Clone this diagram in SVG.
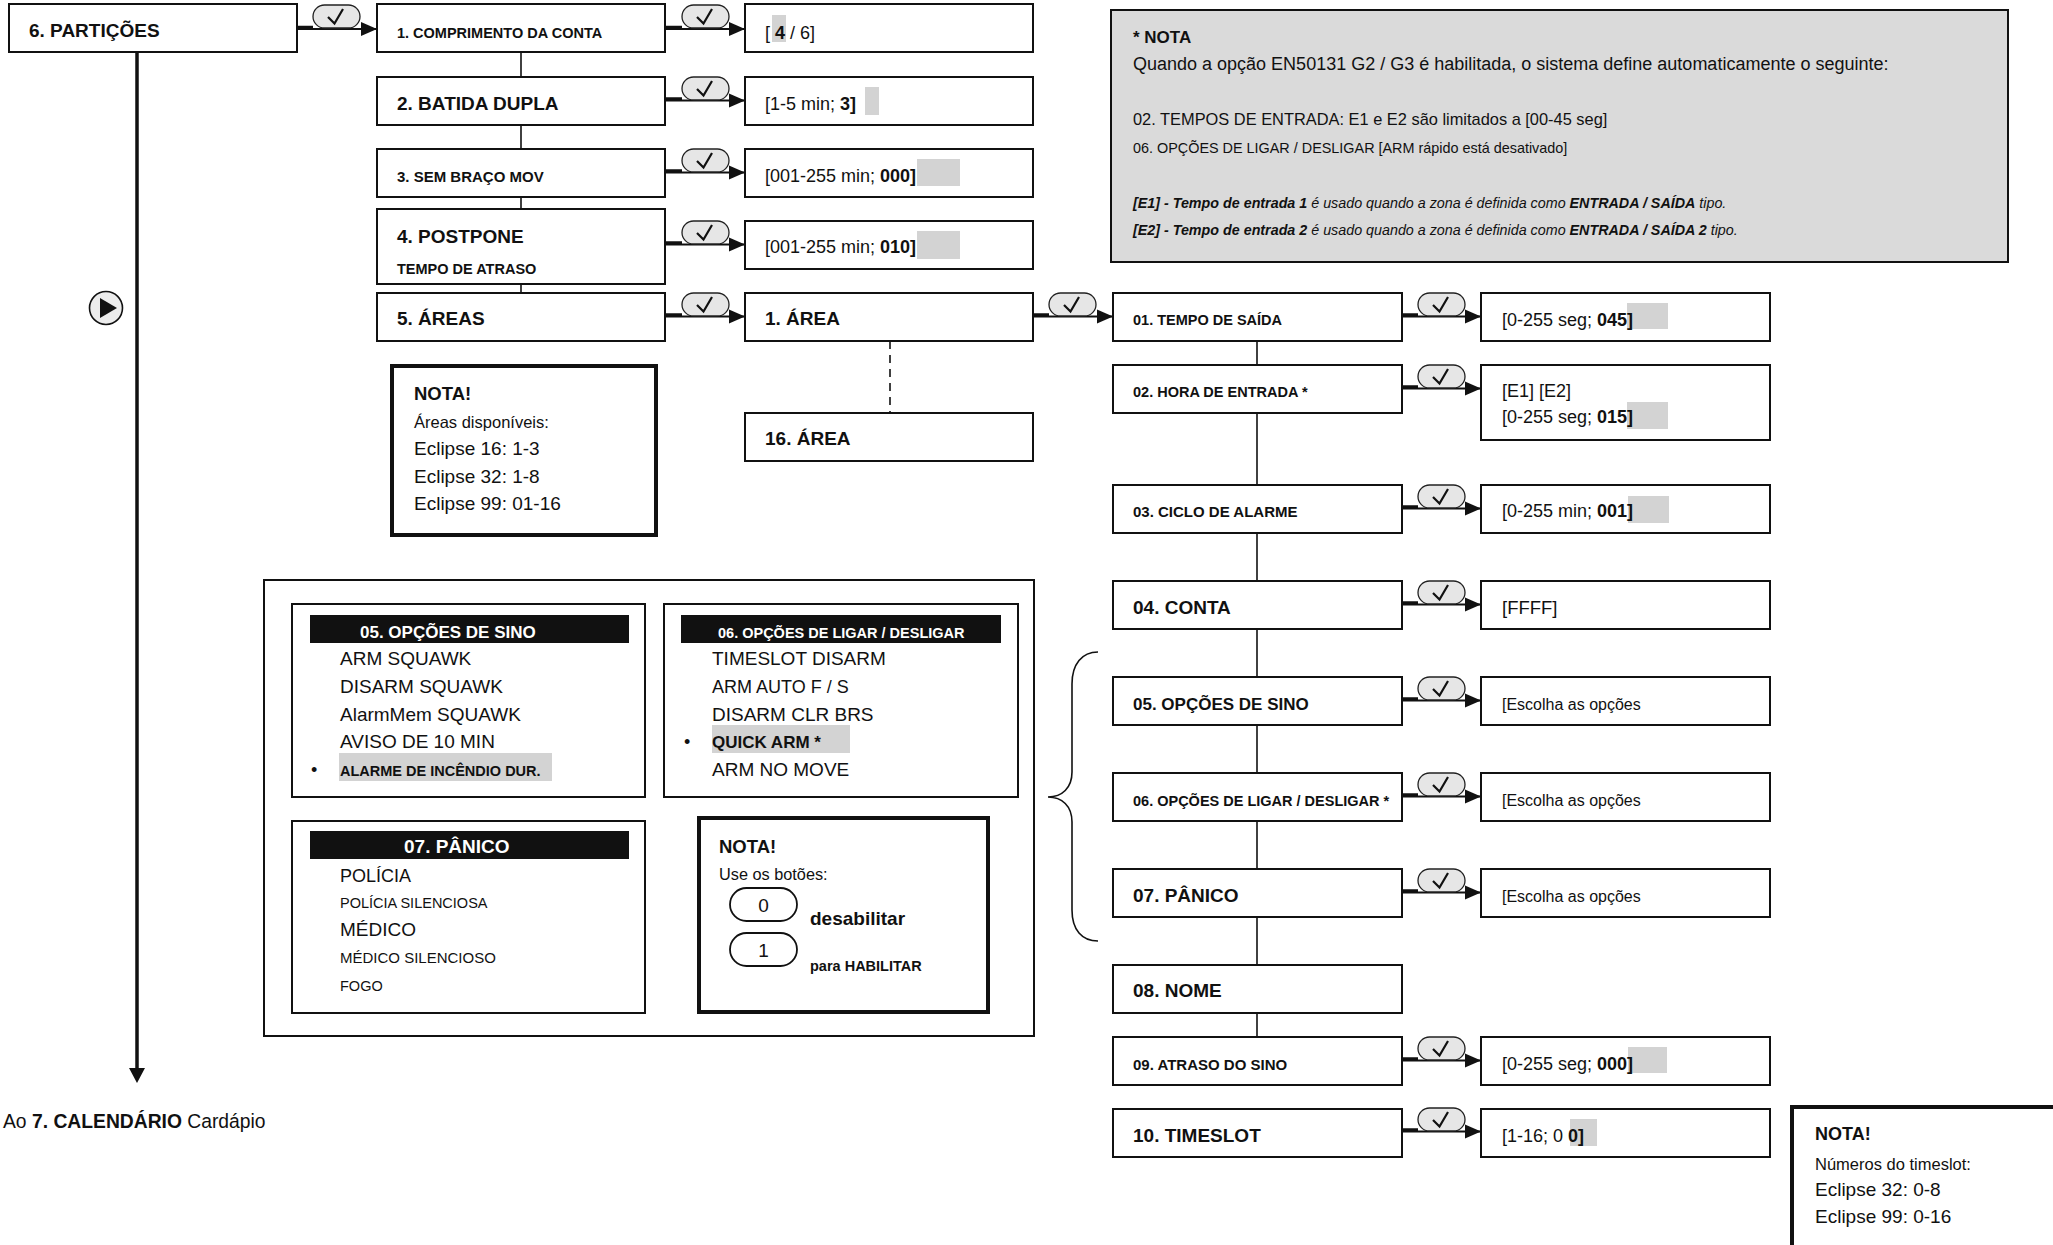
<svg xmlns="http://www.w3.org/2000/svg" xmlns:xlink="http://www.w3.org/1999/xlink" width="2053" height="1245" viewBox="0 0 2053 1245">
<style>
.t{font-family:"Liberation Sans",Arial,sans-serif;fill:#111}
.b{font-weight:bold}
.box{fill:#fff;stroke:#111;stroke-width:2}
.note{fill:#fff;stroke:#111;stroke-width:4}
.hl{fill:#d3d3d3}
.ln{stroke:#111;stroke-width:1.6;fill:none}
.stub{stroke:#111;stroke-width:3.5}
.arr{stroke:#111;stroke-width:1.8;fill:none}
.hdr{fill:#111}
.ht{font-family:"Liberation Sans",Arial,sans-serif;fill:#fff;font-weight:bold}
.f19{font-size:19px}.f18{font-size:18px}.f17{font-size:17px}.f16{font-size:16px}.f15{font-size:15px}.f14{font-size:14.5px}
</style>
<defs>
<marker id="ah" markerUnits="userSpaceOnUse" markerWidth="17" markerHeight="15" refX="16" refY="7.5" orient="auto">
<path d="M0,0.5 L16,7.5 L0,14.5 z" fill="#111"/>
</marker>
<g id="chk">
<rect x="0" y="0" width="47" height="23" rx="11.5" ry="11.5" fill="#e6e6e6" stroke="#222" stroke-width="1.3"/>
<path d="M15,12 L21.5,18.5 L30,4" fill="none" stroke="#111" stroke-width="2.2"/>
</g>
</defs>
<rect width="2053" height="1245" fill="#fff"/>

<!-- connectors -->
<g id="connectors">
<line x1="137" y1="52" x2="137" y2="1070" stroke="#111" stroke-width="3.5"/>
<path d="M129,1068 L145,1068 L137,1083 z" fill="#111"/>
<line class="ln" x1="521" y1="52" x2="521" y2="77"/>
<line class="ln" x1="521" y1="125" x2="521" y2="148"/>
<line class="ln" x1="521" y1="197" x2="521" y2="209"/>
<line class="ln" x1="521" y1="284" x2="521" y2="292"/>
<line x1="890" y1="341" x2="890" y2="412" stroke="#111" stroke-width="1.6" stroke-dasharray="8,6"/>
<line class="ln" x1="1257" y1="341" x2="1257" y2="365"/>
<line class="ln" x1="1257" y1="413" x2="1257" y2="485"/>
<line class="ln" x1="1257" y1="533" x2="1257" y2="581"/>
<line class="ln" x1="1257" y1="629" x2="1257" y2="677"/>
<line class="ln" x1="1257" y1="725" x2="1257" y2="773"/>
<line class="ln" x1="1257" y1="821" x2="1257" y2="869"/>
<line class="ln" x1="1257" y1="917" x2="1257" y2="965"/>
<line class="ln" x1="1257" y1="1013" x2="1257" y2="1037"/>
<path d="M1098,652 C1082,652 1072,664 1072,684 L1072,772 C1072,788 1062,797 1048,797 C1062,797 1072,806 1072,822 L1072,910 C1072,930 1082,941 1098,941" fill="none" stroke="#111" stroke-width="1.6"/>

<!-- arrows with check buttons -->
<line class="stub" x1="297" y1="27.5" x2="313" y2="27.5"/><line class="arr" x1="297" y1="29" x2="377" y2="29" marker-end="url(#ah)"/><use xlink:href="#chk" x="313" y="5"/>
<line class="stub" x1="665" y1="27.5" x2="682" y2="27.5"/><line class="arr" x1="665" y1="29" x2="745" y2="29" marker-end="url(#ah)"/><use xlink:href="#chk" x="682" y="5"/>
<line class="stub" x1="665" y1="99" x2="682" y2="99"/><line class="arr" x1="665" y1="100.5" x2="745" y2="100.5" marker-end="url(#ah)"/><use xlink:href="#chk" x="682" y="77"/>
<line class="stub" x1="665" y1="171" x2="682" y2="171"/><line class="arr" x1="665" y1="172.5" x2="745" y2="172.5" marker-end="url(#ah)"/><use xlink:href="#chk" x="682" y="149"/>
<line class="stub" x1="665" y1="243" x2="682" y2="243"/><line class="arr" x1="665" y1="244.5" x2="745" y2="244.5" marker-end="url(#ah)"/><use xlink:href="#chk" x="682" y="221"/>
<line class="stub" x1="665" y1="315" x2="682" y2="315"/><line class="arr" x1="665" y1="316.5" x2="745" y2="316.5" marker-end="url(#ah)"/><use xlink:href="#chk" x="682" y="293"/>
<line class="stub" x1="1033" y1="315" x2="1049" y2="315"/><line class="arr" x1="1033" y1="316.5" x2="1113" y2="316.5" marker-end="url(#ah)"/><use xlink:href="#chk" x="1049" y="293"/>
<line class="stub" x1="1402" y1="315" x2="1418" y2="315"/><line class="arr" x1="1402" y1="316.5" x2="1481" y2="316.5" marker-end="url(#ah)"/><use xlink:href="#chk" x="1418" y="293"/>
<line class="stub" x1="1402" y1="387" x2="1418" y2="387"/><line class="arr" x1="1402" y1="388.5" x2="1481" y2="388.5" marker-end="url(#ah)"/><use xlink:href="#chk" x="1418" y="365"/>
<line class="stub" x1="1402" y1="507" x2="1418" y2="507"/><line class="arr" x1="1402" y1="508.5" x2="1481" y2="508.5" marker-end="url(#ah)"/><use xlink:href="#chk" x="1418" y="485"/>
<line class="stub" x1="1402" y1="603" x2="1418" y2="603"/><line class="arr" x1="1402" y1="604.5" x2="1481" y2="604.5" marker-end="url(#ah)"/><use xlink:href="#chk" x="1418" y="581"/>
<line class="stub" x1="1402" y1="699" x2="1418" y2="699"/><line class="arr" x1="1402" y1="700.5" x2="1481" y2="700.5" marker-end="url(#ah)"/><use xlink:href="#chk" x="1418" y="677"/>
<line class="stub" x1="1402" y1="795" x2="1418" y2="795"/><line class="arr" x1="1402" y1="796.5" x2="1481" y2="796.5" marker-end="url(#ah)"/><use xlink:href="#chk" x="1418" y="773"/>
<line class="stub" x1="1402" y1="891" x2="1418" y2="891"/><line class="arr" x1="1402" y1="892.5" x2="1481" y2="892.5" marker-end="url(#ah)"/><use xlink:href="#chk" x="1418" y="869"/>
<line class="stub" x1="1402" y1="1059" x2="1418" y2="1059"/><line class="arr" x1="1402" y1="1060.5" x2="1481" y2="1060.5" marker-end="url(#ah)"/><use xlink:href="#chk" x="1418" y="1037"/>
<line class="stub" x1="1402" y1="1130" x2="1418" y2="1130"/><line class="arr" x1="1402" y1="1131.5" x2="1481" y2="1131.5" marker-end="url(#ah)"/><use xlink:href="#chk" x="1418" y="1108"/>
</g>

<!-- play icon -->
<g id="play">
<circle cx="106" cy="308" r="16.5" fill="#ececec" stroke="#111" stroke-width="1.6"/>
<path d="M100,298 L117,308 L100,318 z" fill="#111"/>
</g>

<!-- left column -->
<g id="n-particoes"><rect class="box" x="9" y="4" width="288" height="48"/><text class="t b f19" x="29" y="37">6. PARTIÇÕES</text></g>
<g id="n-comprimento"><rect class="box" x="377" y="4" width="288" height="48"/><text class="t b f14" x="397" y="38">1. COMPRIMENTO DA CONTA</text></g>
<g id="v-comprimento"><rect class="box" x="745" y="4" width="288" height="48"/><rect class="hl" x="772" y="15" width="14" height="27"/><text class="t f18" x="765" y="39">[ <tspan class="b">4</tspan> / 6]</text></g>
<g id="n-batida"><rect class="box" x="377" y="77" width="288" height="48"/><text class="t b f19" x="397" y="110">2. BATIDA DUPLA</text></g>
<g id="v-batida"><rect class="box" x="745" y="77" width="288" height="48"/><rect class="hl" x="865" y="87" width="14" height="28"/><text class="t f18" x="765" y="110">[1-5 min; <tspan class="b">3]</tspan></text></g>
<g id="n-sembraco"><rect class="box" x="377" y="149" width="288" height="48"/><text class="t b f15" x="397" y="182">3. SEM BRAÇO MOV</text></g>
<g id="v-sembraco"><rect class="box" x="745" y="149" width="288" height="48"/><rect class="hl" x="917" y="159" width="43" height="27"/><text class="t f18" x="765" y="182">[001-255 min; <tspan class="b">000]</tspan></text></g>
<g id="n-postpone"><rect class="box" x="377" y="209" width="288" height="75"/><text class="t b f19" x="397" y="243">4. POSTPONE</text><text class="t b f14" x="397" y="274">TEMPO DE ATRASO</text></g>
<g id="v-postpone"><rect class="box" x="745" y="221" width="288" height="48"/><rect class="hl" x="917" y="231" width="43" height="28"/><text class="t f18" x="765" y="253">[001-255 min; <tspan class="b">010]</tspan></text></g>
<g id="n-areas"><rect class="box" x="377" y="293" width="288" height="48"/><text class="t b f19" x="397" y="325">5. ÁREAS</text></g>
<g id="n-area1"><rect class="box" x="745" y="293" width="288" height="48"/><text class="t b f19" x="765" y="325">1. ÁREA</text></g>
<g id="n-area16"><rect class="box" x="745" y="413" width="288" height="48"/><text class="t b f19" x="765" y="445">16. ÁREA</text></g>

<g id="nota-areas">
<rect class="note" x="392" y="366" width="264" height="169"/>
<text class="t b" font-size="18.5" x="414" y="400">NOTA!</text>
<text class="t" font-size="16.5" x="414" y="428">Áreas disponíveis:</text>
<text class="t f19" x="414" y="455">Eclipse 16: 1-3</text>
<text class="t f19" x="414" y="483">Eclipse 32: 1-8</text>
<text class="t f19" x="414" y="510">Eclipse 99: 01-16</text>
</g>

<!-- big note -->
<g id="nota-en50131">
<rect x="1111" y="10" width="897" height="252" fill="#dadada" stroke="#111" stroke-width="2"/>
<text class="t b" font-size="17" x="1133" y="43">* NOTA</text>
<text class="t f18" x="1133" y="70">Quando a opção EN50131 G2 / G3 é habilitada, o sistema define automaticamente o seguinte:</text>
<text class="t" font-size="16.4" x="1133" y="125">02. TEMPOS DE ENTRADA: E1 e E2 são limitados a [00-45 seg]</text>
<text class="t" font-size="14.4" x="1133" y="153">06. OPÇÕES DE LIGAR / DESLIGAR [ARM rápido está desativado]</text>
<text class="t" font-size="14.3" font-style="italic" x="1133" y="208"><tspan font-weight="bold">[E1] - Tempo de entrada 1</tspan> é usado quando a zona é definida como <tspan font-weight="bold">ENTRADA / SAÍDA</tspan> tipo.</text>
<text class="t" font-size="14.3" font-style="italic" x="1133" y="235"><tspan font-weight="bold">[E2] - Tempo de entrada 2</tspan> é usado quando a zona é definida como <tspan font-weight="bold">ENTRADA / SAÍDA 2</tspan> tipo.</text>
</g>

<!-- right column -->
<g id="n-saida"><rect class="box" x="1113" y="293" width="289" height="48"/><text class="t b f14" x="1133" y="325">01. TEMPO DE SAÍDA</text></g>
<g id="v-saida"><rect class="box" x="1481" y="293" width="289" height="48"/><rect class="hl" x="1627" y="303" width="41" height="26"/><text class="t f18" x="1502" y="326">[0-255 seg; <tspan class="b">045]</tspan></text></g>
<g id="n-entrada"><rect class="box" x="1113" y="365" width="289" height="48"/><text class="t b f14" x="1133" y="397">02. HORA DE ENTRADA *</text></g>
<g id="v-entrada"><rect class="box" x="1481" y="365" width="289" height="75"/><rect class="hl" x="1627" y="402" width="41" height="27"/><text class="t f18" x="1502" y="397">[E1] [E2]</text><text class="t f18" x="1502" y="423">[0-255 seg; <tspan class="b">015]</tspan></text></g>
<g id="n-ciclo"><rect class="box" x="1113" y="485" width="289" height="48"/><text class="t b f15" x="1133" y="517">03. CICLO DE ALARME</text></g>
<g id="v-ciclo"><rect class="box" x="1481" y="485" width="289" height="48"/><rect class="hl" x="1628" y="496" width="41" height="27"/><text class="t f18" x="1502" y="517">[0-255 min; <tspan class="b">001]</tspan></text></g>
<g id="n-conta"><rect class="box" x="1113" y="581" width="289" height="48"/><text class="t b f19" x="1133" y="614">04. CONTA</text></g>
<g id="v-conta"><rect class="box" x="1481" y="581" width="289" height="48"/><text class="t" font-size="18.5" x="1502" y="614">[FFFF]</text></g>
<g id="n-sino"><rect class="box" x="1113" y="677" width="289" height="48"/><text class="t b f17" x="1133" y="710">05. OPÇÕES DE SINO</text></g>
<g id="v-sino"><rect class="box" x="1481" y="677" width="289" height="48"/><text class="t f16" x="1502" y="710">[Escolha as opções</text></g>
<g id="n-ligar"><rect class="box" x="1113" y="773" width="289" height="48"/><text class="t b f14" x="1133" y="806">06. OPÇÕES DE LIGAR / DESLIGAR *</text></g>
<g id="v-ligar"><rect class="box" x="1481" y="773" width="289" height="48"/><text class="t f16" x="1502" y="806">[Escolha as opções</text></g>
<g id="n-panico"><rect class="box" x="1113" y="869" width="289" height="48"/><text class="t b f19" x="1133" y="902">07. PÂNICO</text></g>
<g id="v-panico"><rect class="box" x="1481" y="869" width="289" height="48"/><text class="t f16" x="1502" y="902">[Escolha as opções</text></g>
<g id="n-nome"><rect class="box" x="1113" y="965" width="289" height="48"/><text class="t b f19" x="1133" y="997">08. NOME</text></g>
<g id="n-atraso"><rect class="box" x="1113" y="1037" width="289" height="48"/><text class="t b f15" x="1133" y="1070">09. ATRASO DO SINO</text></g>
<g id="v-atraso"><rect class="box" x="1481" y="1037" width="289" height="48"/><rect class="hl" x="1628" y="1047" width="39" height="26"/><text class="t f18" x="1502" y="1070">[0-255 seg; <tspan class="b">000]</tspan></text></g>
<g id="n-timeslot"><rect class="box" x="1113" y="1109" width="289" height="48"/><text class="t b f19" x="1133" y="1142">10. TIMESLOT</text></g>
<g id="v-timeslot"><rect class="box" x="1481" y="1109" width="289" height="48"/><rect class="hl" x="1570" y="1119" width="27" height="27"/><text class="t f18" x="1502" y="1142">[1-16; 0 <tspan class="b">0]</tspan></text></g>

<g id="nota-timeslot">
<rect class="note" x="1792" y="1107" width="280" height="160"/>
<text class="t b f18" x="1815" y="1140">NOTA!</text>
<text class="t" font-size="16.5" x="1815" y="1170">Números do timeslot:</text>
<text class="t f19" x="1815" y="1196">Eclipse 32: 0-8</text>
<text class="t f19" x="1815" y="1223">Eclipse 99: 0-16</text>
</g>

<!-- options panel -->
<g id="painel-opcoes">
<rect x="264" y="580" width="770" height="456" fill="#fff" stroke="#111" stroke-width="2"/>
<g id="opt-sino">
<rect class="box" x="292" y="604" width="353" height="193"/>
<rect class="hdr" x="310" y="615" width="319" height="28"/>
<text class="ht f17" x="360" y="638">05. OPÇÕES DE SINO</text>
<text class="t f19" x="340" y="665">ARM SQUAWK</text>
<text class="t f19" x="340" y="693">DISARM SQUAWK</text>
<text class="t f19" x="340" y="721">AlarmMem SQUAWK</text>
<text class="t f19" x="340" y="748">AVISO DE 10 MIN</text>
<rect class="hl" x="339" y="753" width="213" height="28"/>
<text class="t f18" x="311" y="776">•</text>
<text class="t b f14" x="340" y="776">ALARME DE INCÊNDIO DUR.</text>
</g>
<g id="opt-ligar">
<rect class="box" x="664" y="604" width="354" height="193"/>
<rect class="hdr" x="681" y="615" width="320" height="28"/>
<text class="ht f14" x="718" y="638">06. OPÇÕES DE LIGAR / DESLIGAR</text>
<text class="t f19" x="712" y="665">TIMESLOT DISARM</text>
<text class="t f18" x="712" y="693">ARM AUTO F / S</text>
<text class="t f19" x="712" y="721">DISARM CLR BRS</text>
<rect class="hl" x="712" y="725" width="138" height="28"/>
<text class="t f18" x="684" y="748">•</text>
<text class="t b f17" x="712" y="748">QUICK ARM *</text>
<text class="t f19" x="712" y="776">ARM NO MOVE</text>
</g>
<g id="opt-panico">
<rect class="box" x="292" y="821" width="353" height="192"/>
<rect class="hdr" x="310" y="831" width="319" height="28"/>
<text class="ht f19" x="404" y="853">07. PÂNICO</text>
<text class="t f18" x="340" y="882">POLÍCIA</text>
<text class="t f14" x="340" y="908">POLÍCIA SILENCIOSA</text>
<text class="t f19" x="340" y="936">MÉDICO</text>
<text class="t f15" x="340" y="963">MÉDICO SILENCIOSO</text>
<text class="t f14" x="340" y="991">FOGO</text>
</g>
<g id="nota-botoes">
<rect class="note" x="699" y="818" width="289" height="194"/>
<text class="t b" font-size="18.5" x="719" y="853">NOTA!</text>
<text class="t" font-size="16.3" x="719" y="880">Use os botões:</text>
<rect x="730" y="888" width="67" height="33" rx="16.5" fill="#fff" stroke="#111" stroke-width="1.8"/>
<text class="t f19" x="763.5" y="912" text-anchor="middle">0</text>
<text class="t b f19" x="810" y="925">desabilitar</text>
<rect x="730" y="933" width="67" height="33" rx="16.5" fill="#fff" stroke="#111" stroke-width="1.8"/>
<text class="t f19" x="763.5" y="957" text-anchor="middle">1</text>
<text class="t b f14" x="810" y="971">para HABILITAR</text>
</g>
</g>

<text class="t" font-size="19.3" x="3" y="1128">Ao <tspan class="b">7. CALENDÁRIO</tspan> Cardápio</text>
</svg>
